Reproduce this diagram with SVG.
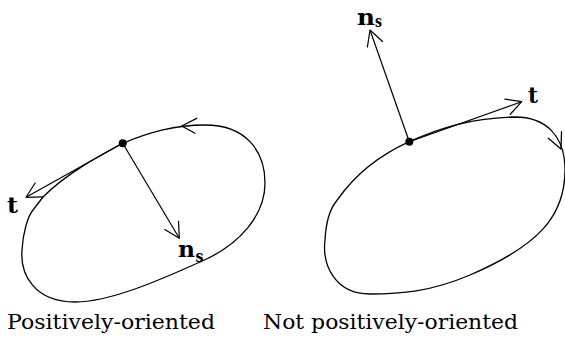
<svg xmlns="http://www.w3.org/2000/svg" width="565" height="342" viewBox="0 0 565 342">
<style>
.c{fill:none;stroke:#000;stroke-width:1.3;stroke-linejoin:round;stroke-linecap:round}
.v{fill:none;stroke:#000;stroke-width:1.2;marker-end:url(#ah)}
.b{font-weight:bold;fill:#000}
.lbl{font-size:21px;fill:#000}
</style>
<defs>
<marker id="ah" markerUnits="userSpaceOnUse" markerWidth="20" markerHeight="20" viewBox="0 0 20 20" refX="16" refY="9" orient="auto">
<path d="M1,1 L16,9 L1,17" fill="none" stroke="#000" stroke-width="1.2" stroke-linecap="round" stroke-linejoin="round"/>
</marker>
</defs>
<g id="left-curve">
<path class="c" d="M122.7,143.3 C150,132 175,125 205,125 C245,125 265,150 265,183 C265,215 240,245 200,262 C160,280 110,302 75,302 C35,302 20,275 22,250 C23,232 28,216 33,210 L43,197 C65,175 95,158 122.7,143.3"/>
<polyline class="c" points="196.7,118.3 181.7,126 195,133.3"/>
<circle cx="122.7" cy="143.3" r="4"/>
</g>
<g id="right-curve">
<path class="c" d="M409.3,141.7 C440,128 470,118 515,117 C545,117 565,135 565,170 C565,215 540,245 470,275 C430,292 400,294 370,294 C335,294 322,265 325,240 C326,222 330,210 335,203 L338,199 C355,175 380,155 409.3,141.7"/>
<polyline class="c" points="548.3,138.3 561,149 561.5,131.7"/>
<circle cx="409.3" cy="141.7" r="4"/>
</g>
<g id="connectors">
<line class="v" x1="122.7" y1="143.3" x2="26" y2="197.3"/>
<line class="v" x1="122.7" y1="143.3" x2="179.3" y2="238.3"/>
<line class="v" x1="409.3" y1="141.7" x2="370" y2="30"/>
<line class="v" x1="409.3" y1="141.7" x2="521.7" y2="101.7"/>
</g>
<g id="labels" font-family="'DejaVu Serif', 'Liberation Serif', serif">
<text class="b" x="7" y="213" font-size="22" textLength="11" lengthAdjust="spacingAndGlyphs">t</text>
<text class="b" x="178" y="257" font-size="22" textLength="17" lengthAdjust="spacingAndGlyphs">n</text>
<text class="b" x="195.5" y="262" font-size="16" textLength="8" lengthAdjust="spacingAndGlyphs">s</text>
<text class="b" x="357" y="25" font-size="22" textLength="18" lengthAdjust="spacingAndGlyphs">n</text>
<text class="b" x="375" y="27" font-size="16" textLength="7" lengthAdjust="spacingAndGlyphs">s</text>
<text class="b" x="528" y="103" font-size="22" textLength="10" lengthAdjust="spacingAndGlyphs">t</text>
<text class="lbl" x="7" y="329" textLength="208" lengthAdjust="spacingAndGlyphs">Positively-oriented</text>
<text class="lbl" x="263" y="329" textLength="255" lengthAdjust="spacingAndGlyphs">Not positively-oriented</text>
</g>
</svg>
